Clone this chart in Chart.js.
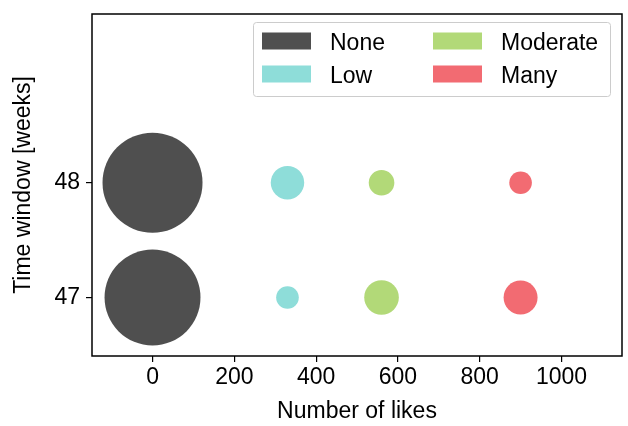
<!DOCTYPE html>
<html>
<head>
<meta charset="utf-8">
<script src="https://cdn.jsdelivr.net/npm/chart.js@4/dist/chart.umd.min.js"></script>
<style>
html,body{margin:0;padding:0;background:#fff;}
#wrap{width:628px;height:426px;}
</style>
</head>
<body>
<div id="wrap"><canvas id="c" width="628" height="426"></canvas></div>
<script>
const categories = ['None', 'Low', 'Moderate', 'Many'];
const weeks = [47, 48];
const likePositions = [0, 330, 560, 900];
const noneSizes = [2300, 2500];
const lowSizes = [128, 280];
const moderateSizes = [300, 164];
const manySizes = [289, 128];
const xTicks = [0, 200, 400, 600, 800, 1000];
const yTicks = [47, 48];

const colors = ['#4f4f4f', '#8eddd9', '#b2d978', '#f26b72'];
const sizeSets = [noneSizes, lowSizes, moderateSizes, manySizes];

const datasets = categories.map((name, i) => ({
  label: name,
  data: weeks.map((w, j) => ({ x: likePositions[i], y: w, r: Math.sqrt(sizeSets[i][j]) })),
  backgroundColor: colors[i],
  borderWidth: 0,
  hoverBorderWidth: 0
}));

const FONT = 'Liberation Sans, Arial, sans-serif';
const FS = 23;

const framePlugin = {
  id: 'frame',
  afterDatasetsDraw(chart) {
    const a = chart.chartArea, ctx = chart.ctx;
    ctx.save();
    ctx.strokeStyle = '#000';
    ctx.lineWidth = 1.5;
    ctx.strokeRect(a.left, a.top, a.right - a.left, a.bottom - a.top);
    ctx.restore();
  }
};

const legendPlugin = {
  id: 'mplLegend',
  afterDraw(chart) {
    const ctx = chart.ctx;
    const boxL = 253.5, boxT = 22.5, boxW = 357, boxH = 74;
    ctx.save();
    ctx.fillStyle = 'rgba(255,255,255,0.8)';
    ctx.strokeStyle = '#cccccc';
    ctx.lineWidth = 1;
    ctx.beginPath();
    ctx.roundRect(boxL, boxT, boxW, boxH, 3);
    ctx.fill();
    ctx.stroke();
    ctx.font = FS + 'px ' + FONT;
    ctx.textBaseline = 'alphabetic';
    ctx.textAlign = 'left';
    const cols = [262, 433];
    const rows = [41, 74];
    chart.data.datasets.forEach((ds, i) => {
      const col = Math.floor(i / 2), row = i % 2;
      const x = cols[col], y = rows[row];
      ctx.fillStyle = ds.backgroundColor;
      ctx.fillRect(x, y - 8.5, 49, 17);
      ctx.fillStyle = '#000';
      ctx.fillText(ds.label, x + 68, y + 9);
    });
    ctx.restore();
  }
};

new Chart(document.getElementById('c'), {
  type: 'bubble',
  data: { datasets },
  options: {
    responsive: false,
    animation: false,
    devicePixelRatio: 1,
    layout: { autoPadding: false, padding: { left: 0, right: 6, top: 14, bottom: 0 } },
    plugins: { legend: { display: false }, tooltip: { enabled: false } },
    scales: {
      x: {
        type: 'linear',
        min: -148,
        max: 1148,
        afterBuildTicks: s => { s.ticks = xTicks.map(v => ({ value: v })); },
        afterFit: s => { s.height = 70; s.paddingLeft = 0; s.paddingRight = 0; },
        border: { display: false },
        grid: { drawOnChartArea: false, drawTicks: true, tickLength: 6, color: '#000', lineWidth: 1.2 },
        ticks: { color: '#000', font: { family: FONT, size: FS }, padding: 2, maxRotation: 0, callback: v => String(v) },
        title: { display: true, text: 'Number of likes', color: '#000', font: { family: FONT, size: FS }, padding: { top: 4, bottom: 1 } }
      },
      y: {
        type: 'linear',
        min: 46.49,
        max: 49.47,
        afterBuildTicks: s => { s.ticks = yTicks.map(v => ({ value: v })); },
        afterFit: s => { s.width = 92; s.paddingTop = 0; s.paddingBottom = 0; },
        border: { display: false },
        grid: { drawOnChartArea: false, drawTicks: true, tickLength: 6, color: '#000', lineWidth: 1.2 },
        ticks: { color: '#000', font: { family: FONT, size: FS }, padding: 6, callback: v => String(v) },
        title: { display: true, text: 'Time window [weeks]', color: '#000', font: { family: FONT, size: FS }, padding: { top: 10, bottom: 4 } }
      }
    }
  },
  plugins: [framePlugin, legendPlugin]
});
</script>
</body>
</html>
